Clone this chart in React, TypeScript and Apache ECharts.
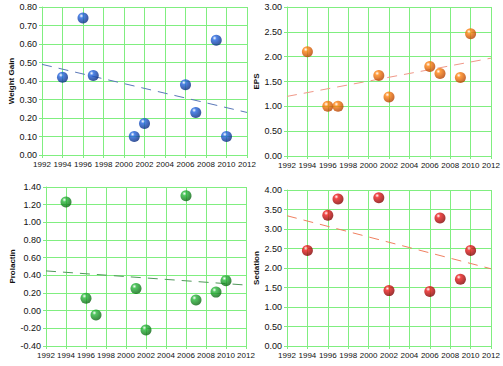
import React, { useEffect, useRef } from "react";
import * as echarts from "echarts";

const years = [1994, 1996, 1997, 2001, 2002, 2006, 2007, 2009, 2010];
const weightGain = [0.42, 0.74, 0.43, 0.1, 0.17, 0.38, 0.23, 0.62, 0.1];
const eps = [2.1, 1.0, 1.0, 1.62, 1.19, 1.8, 1.66, 1.58, 2.46];
const prolactin = [1.23, 0.14, -0.05, 0.25, -0.22, 1.3, 0.12, 0.21, 0.34];
const sedation = [2.45, 3.35, 3.77, 3.8, 1.42, 1.4, 3.28, 1.71, 2.45];

const trendYears = [1992, 2012];
const weightTrend = [0.49, 0.23];
const epsTrend = [1.2, 1.97];
const prolactinTrend = [0.45, 0.29];
const sedationTrend = [3.34, 1.98];

const panels = [
  { name: "Weight Gain", values: weightGain, trend: weightTrend, min: 0, max: 0.8, interval: 0.1,
    grid: { left: 42, top: 7, width: 205, height: 148 }, gap: 27,
    base: "#2466e0", dark: "#082878", trendColor: "#5a78b8" },
  { name: "EPS", values: eps, trend: epsTrend, min: 0, max: 3, interval: 0.5,
    grid: { left: 287, top: 7, width: 204, height: 149 }, gap: 27,
    base: "#ff8410", dark: "#b03c00", trendColor: "#f09888" },
  { name: "Prolactin", values: prolactin, trend: prolactinTrend, min: -0.4, max: 1.4, interval: 0.2,
    grid: { left: 46, top: 187, width: 200, height: 159 }, gap: 30,
    base: "#28b83a", dark: "#08600e", trendColor: "#50985a" },
  { name: "Sedation", values: sedation, trend: sedationTrend, min: 0, max: 4, interval: 0.5,
    grid: { left: 287, top: 190, width: 204, height: 156 }, gap: 27,
    base: "#ee1c1c", dark: "#7a0000", trendColor: "#f08060" },
];

const GREEN = "#80ee80";
const FONT = "'Liberation Sans', Arial, sans-serif";

export default function App() {
  const ref = useRef<HTMLDivElement>(null);
  useEffect(() => {
    if (!ref.current) return;
    const chart = echarts.init(ref.current, undefined, { renderer: "svg" });
    const grid: any[] = [];
    const xAxis: any[] = [];
    const yAxis: any[] = [];
    const series: any[] = [];
    panels.forEach((p, i) => {
      grid.push({ ...p.grid, containLabel: false });
      xAxis.push({
        type: "value", gridIndex: i, min: 1992, max: 2012, interval: 2,
        axisLine: { show: true, onZero: false, lineStyle: { color: GREEN, width: 1 } },
        axisTick: { show: true, length: 3, lineStyle: { color: GREEN } },
        splitLine: { show: true, lineStyle: { color: GREEN, width: 1 } },
        axisLabel: {
          formatter: (v: number) => String(v), fontSize: 8, color: "#111", margin: 5,
          fontFamily: FONT, showMinLabel: true, showMaxLabel: true, hideOverlap: false,
        },
      });
      yAxis.push({
        type: "value", gridIndex: i, min: p.min, max: p.max, interval: p.interval,
        name: p.name, nameLocation: "middle", nameGap: p.gap, nameRotate: 90,
        nameTextStyle: { fontSize: 8, fontWeight: "bold", color: "#111", fontFamily: FONT },
        axisLine: { show: true, onZero: false, lineStyle: { color: GREEN, width: 1 } },
        axisTick: { show: true, length: 3, lineStyle: { color: GREEN } },
        splitLine: { show: true, lineStyle: { color: GREEN, width: 1 } },
        axisLabel: {
          formatter: (v: number) => v.toFixed(2), fontSize: 9, color: "#111", margin: 5,
          fontFamily: FONT, showMinLabel: true, showMaxLabel: true,
        },
      });
      series.push({
        type: "line", xAxisIndex: i, yAxisIndex: i, symbol: "none", silent: true,
        data: trendYears.map((y, k) => [y, p.trend[k]]),
        lineStyle: { color: p.trendColor, width: 1, type: [10, 7] },
        z: 2,
      });
      series.push({
        type: "scatter", xAxisIndex: i, yAxisIndex: i, symbolSize: 11,
        data: years.map((y, k) => [y, p.values[k]]),
        itemStyle: {
          color: new echarts.graphic.RadialGradient(0.35, 0.3, 0.75, [
            { offset: 0, color: "#ffffff" },
            { offset: 0.25, color: p.base },
            { offset: 1, color: p.dark },
          ]),
        },
        z: 3,
      });
    });
    chart.setOption({
      animation: false,
      backgroundColor: "#ffffff",
      grid, xAxis, yAxis, series,
    });
    return () => chart.dispose();
  }, []);
  return <div ref={ref} style={{ position: "fixed", left: 0, top: 0, width: 503, height: 366 }} />;
}
